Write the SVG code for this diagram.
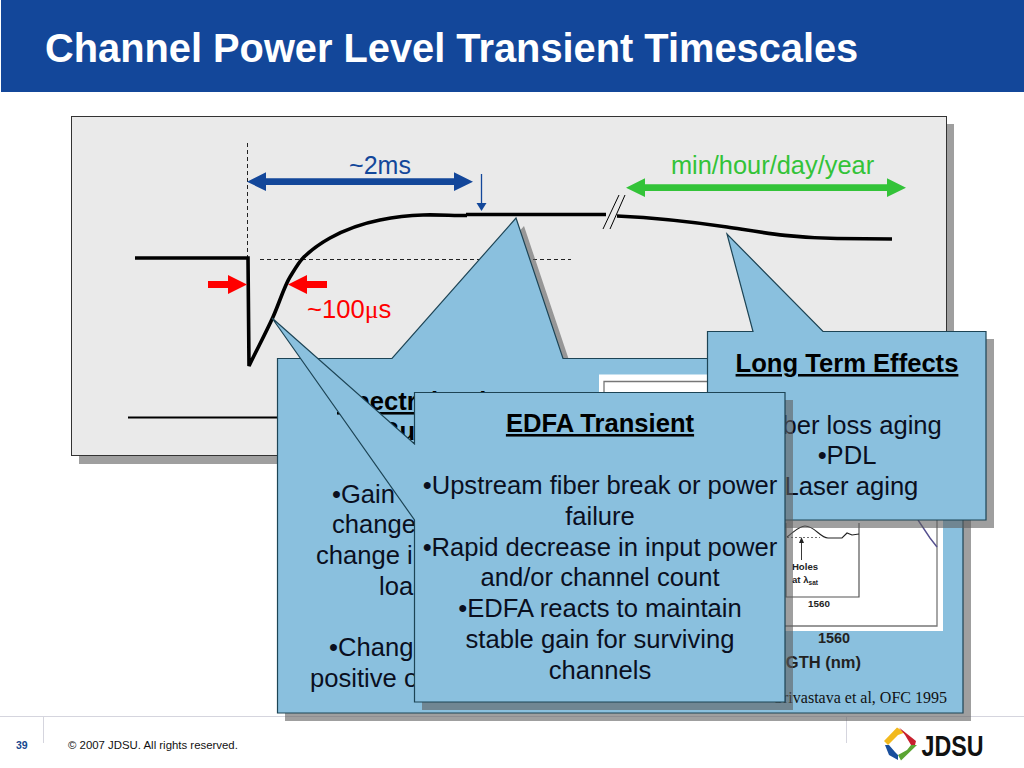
<svg xmlns="http://www.w3.org/2000/svg" width="1024" height="768" viewBox="0 0 1024 768">
<style>
text{font-family:"Liberation Sans",Arial,sans-serif}
.box{fill:#8ac0de;stroke:#1d4455;stroke-width:1.2;stroke-linejoin:miter}
.shadow{fill:#5f5f5f;fill-opacity:.6}
.t{font-size:25.6px;fill:#0a0f1e;text-anchor:middle}
.tl{font-size:25.6px;fill:#0a0f1e}
.h{font-size:25.6px;font-weight:bold;fill:#000;text-anchor:middle;text-decoration:underline}
.hl{font-size:25.6px;font-weight:bold;fill:#000;text-decoration:underline}
.curve{fill:none;stroke:#000;stroke-width:3.6}
.thin{fill:none;stroke:#000;stroke-width:1}
.dash{fill:none;stroke:#222;stroke-width:1;stroke-dasharray:4 3}
.g{font-weight:bold;fill:#222}
</style>
<rect width="1024" height="768" fill="#fff"/>
<g id="header">
<rect x="1" y="0" width="1023" height="92" fill="#13479a"/>
<text x="45" y="62" font-size="39.800" font-weight="bold" fill="#fff">Channel Power Level Transient Timescales</text>
</g>
<g id="footer">
<path d="M0 716.500H1024M43.500 716V743M846.500 716V743" stroke="#d5d5de" fill="none"/>
<text x="16" y="748.500" font-size="10.500" font-weight="bold" fill="#17488f">39</text>
<text x="68" y="748.500" font-size="11.400" fill="#111">© 2007 JDSU. All rights reserved.</text>
</g>
<g id="logo">
<path d="M897 727.500L884 741L888 745L898 735L905 732.500Z" fill="#f2b91d"/>
<path d="M899 727.500L916 741L915 745L911 745L905 735Z" fill="#c8202e"/>
<path d="M917 745L901 760.500L898 755L907 750L911 745Z" fill="#5ba532"/>
<path d="M885 745L889 745L895 752L898 755L898 760L889 755Z" fill="#1a4f9c"/>
<text x="921.500" y="755.500" font-size="29" font-weight="bold" fill="#111" textLength="62" lengthAdjust="spacingAndGlyphs">JDSU</text>
</g>
<g id="plot-panel">
<rect x="79" y="124" width="875" height="340" class="shadow"/>
<rect x="71.500" y="116.500" width="875" height="339" fill="#eaeaea" stroke="#333" stroke-width="1"/>
</g>
<g id="connectors">
<path class="dash" d="M247.500 143V258"/>
<path class="dash" d="M260 259.500H571"/>
<path class="curve" d="M135 258H248L249 366C257 349.200 265 334.600 273 317C278.700 304.500 284.300 286.100 290 277C294.300 270 298.700 262.300 303 258C312 249 321 243 330 238C346.700 228.800 363.300 223.300 380 220C394.300 217.100 408.700 215.400 423 215C437.700 214.600 452 215.500 467 215.500"/>
<path class="curve" d="M466 214.500H606"/>
<path class="curve" d="M617 216C660 218 700 223 727 227C760 232 790 238 837 238.500L892 239"/>
<path class="thin" d="M603 229L619 195M610 229L625 195"/>
<path d="M128 417.500H278" stroke="#000" stroke-width="2" fill="none"/>
<path d="M247 181.700L266 172.300V178.300H454V172.300L473 181.700L454 191V185H266V191Z" fill="#13479a"/>
<path d="M626 187.700L645 178.300V184.300H887V178.300L906 187.700L887 197V191H645V197Z" fill="#33c338"/>
<path d="M481.500 174V203" stroke="#13479a" stroke-width="1.300" fill="none"/>
<path d="M476.500 203H486.500L481.500 211Z" fill="#13479a"/>
<path d="M208 281H228V275L247 284.500L228 294V288H208Z" fill="#f00"/>
<path d="M327 281H307V275L288 284.500L307 294V288H327Z" fill="#f00"/>
</g>
<g id="plot-labels">
<text x="380" y="174" font-size="25" fill="#13479a" text-anchor="middle">~2ms</text>
<text x="772.500" y="174" font-size="25.400" fill="#33c338" text-anchor="middle">min/hour/day/year</text>
<text x="307" y="318" font-size="25.600" fill="#f00">~100<tspan style="font-family:'Liberation Serif',serif">μ</tspan>s</text>
</g>
<g id="spectral-callout">
<path class="shadow" d="M285 366H400L524 226L571 366H971V721H285Z"/>
<path class="box" d="M277.500 358.500H392L516 218L563 358.500H963V713H277.500Z"/>
<text x="337" y="410" class="hl">Spectral Hole</text>
<text x="381" y="440" class="hl">Bur</text>
<text x="332" y="503" class="tl">•Gain</text>
<text x="332" y="533" class="tl">change</text>
<text x="316" y="564" class="tl">change i</text>
<text x="379" y="595" class="tl">load</text>
<text x="329" y="656" class="tl">•Change</text>
<text x="310" y="687" class="tl">positive o</text>
<text x="947" y="703" font-size="16" fill="#111" text-anchor="end" style="font-family:'Liberation Serif',serif">Srivastava et al, OFC 1995</text>
</g>
<g id="spectrum-figure">
<rect x="599" y="374.500" width="344" height="256.500" fill="#fff"/>
<path d="M604 381.500H937V626H604Z" fill="none" stroke="#777" stroke-width="1.300"/>
<path d="M786 523V597H859V523" fill="none" stroke="#555" stroke-width="1.200"/>
<path d="M787 537C795 531 799 526 805 526C815 526 820 538 828 538H842L847 533L852 535L859 534" fill="none" stroke="#222" stroke-width="1.100"/>
<path d="M918 520L930 538L937 547" fill="none" stroke="#55508f" stroke-width="1.400"/>
<path d="M787 537.500H820" stroke="#333" stroke-width=".7" stroke-dasharray="2 2" fill="none"/>
<path d="M801.500 560V541" stroke="#222" stroke-width=".9" fill="none"/>
<path d="M799 543L801.500 537L804 543Z" fill="#222"/>
<text x="805" y="570" font-size="9.600" class="g" text-anchor="middle">Holes</text>
<text x="792" y="583" font-size="9.600" class="g">at  λ<tspan font-size="6.500" dy="2">sat</tspan></text>
<text x="819" y="607" font-size="9.800" class="g" text-anchor="middle">1560</text>
<text x="834" y="643" font-size="14.400" class="g" text-anchor="middle">1560</text>
<text x="861" y="668" font-size="16.500" class="g" text-anchor="end">GTH (nm)</text>
</g>
<g id="long-term-callout">
<path class="shadow" d="M715 339H761L735 242L831 339H994V528H715Z"/>
<path class="box" d="M707.500 331.500H753L727 234L823 331.500H986V520H707.500Z"/>
<text x="847" y="372" class="h">Long Term Effects</text>
<text x="847" y="434" class="t">•Fiber loss aging</text>
<text x="847" y="464" class="t">•PDL</text>
<text x="847" y="495" class="t">•Laser aging</text>
</g>
<g id="edfa-callout">
<path class="shadow" d="M422 400H793V710H422Z"/>
<path class="box" d="M414.500 392.500H785V702H414.500V520L272 318L414.500 444Z"/>
<text x="600" y="432" class="h">EDFA Transient</text>
<text x="600" y="494" class="t">•Upstream fiber break or power</text>
<text x="600" y="525" class="t">failure</text>
<text x="600" y="556" class="t">•Rapid decrease in input power</text>
<text x="600" y="586" class="t">and/or channel count</text>
<text x="600" y="617" class="t">•EDFA reacts to maintain</text>
<text x="600" y="648" class="t">stable gain for surviving</text>
<text x="600" y="679" class="t">channels</text>
</g>
</svg>
